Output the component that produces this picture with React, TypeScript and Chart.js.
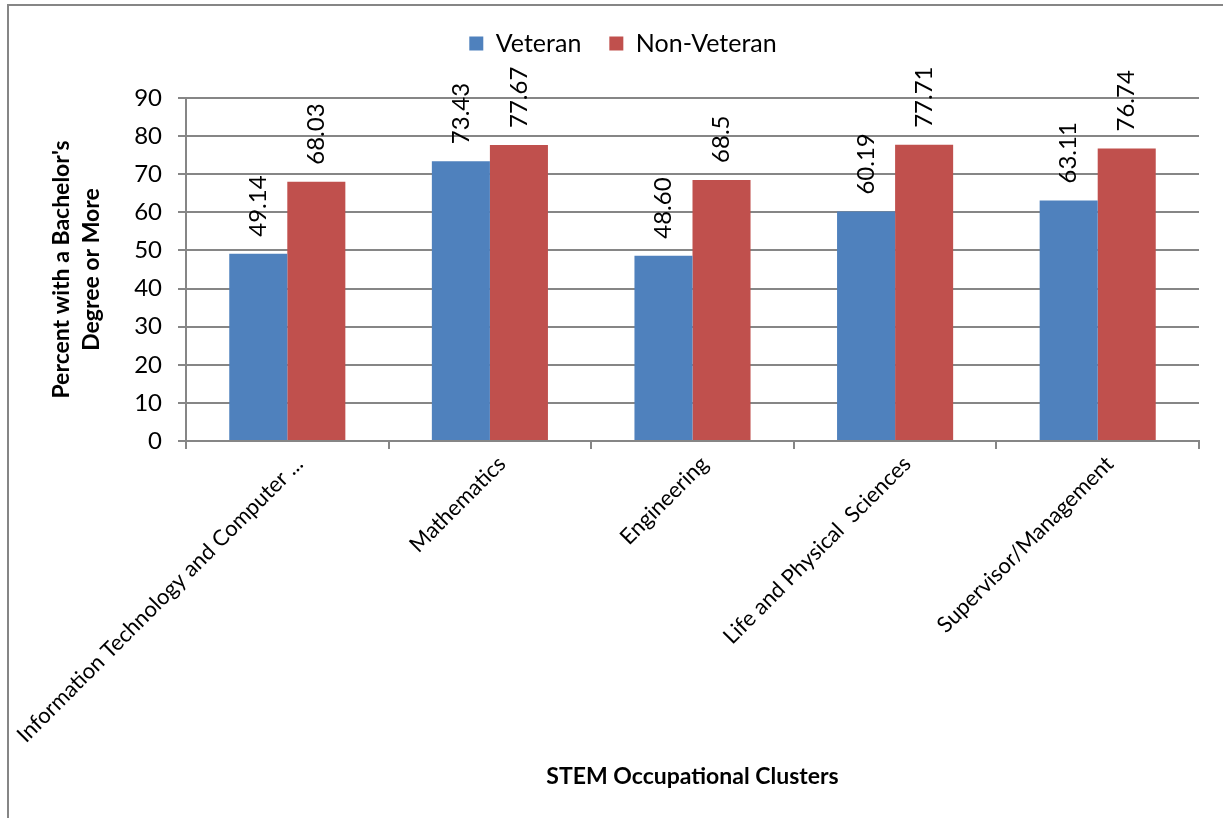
import React, { useEffect, useRef } from "react";
import { Chart, registerables } from "chart.js";

Chart.register(...registerables);

const categories = [
  "Information Technology and Computer ...",
  "Mathematics",
  "Engineering",
  "Life and Physical  Sciences",
  "Supervisor/Management",
];
const veteranValues = [49.14, 73.43, 48.6, 60.19, 63.11];
const veteranLabels = ["49.14", "73.43", "48.60", "60.19", "63.11"];
const nonVeteranValues = [68.03, 77.67, 68.5, 77.71, 76.74];
const nonVeteranLabels = ["68.03", "77.67", "68.5", "77.71", "76.74"];
const yTicks = [0, 10, 20, 30, 40, 50, 60, 70, 80, 90];

const FONT = "Lato, 'Open Sans', sans-serif";

export default function App() {
  const ref = useRef<HTMLCanvasElement | null>(null);

  useEffect(() => {
    if (!ref.current) return;
    document.body.style.margin = "0";

    const framePlugin = {
      id: "frame",
      beforeDraw(chart: any) {
        const ctx = chart.ctx;
        ctx.save();
        ctx.fillStyle = "#ffffff";
        ctx.fillRect(0, 0, chart.width, chart.height);
        ctx.strokeStyle = "#868686";
        ctx.lineWidth = 2;
        ctx.beginPath();
        ctx.moveTo(8, chart.height + 5);
        ctx.lineTo(8, 5);
        ctx.lineTo(chart.width + 5, 5);
        ctx.stroke();
        ctx.restore();
      },
    };

    const legendFit = {
      id: "legendFit",
      beforeInit(chart: any) {
        const legend = chart.legend;
        if (!legend) return;
        const orig = legend.fit;
        legend.fit = function () {
          orig.call(this);
          this.height = 95;
        };
      },
    };

    const labelPlugin = {
      id: "barLabels",
      afterDatasetsDraw(chart: any) {
        const ctx = chart.ctx;
        const labelSets = [veteranLabels, nonVeteranLabels];
        ctx.save();
        ctx.font = `24px ${FONT}`;
        ctx.fillStyle = "#000000";
        ctx.textAlign = "left";
        ctx.textBaseline = "middle";
        chart.data.datasets.forEach((ds: any, di: number) => {
          const meta = chart.getDatasetMeta(di);
          meta.data.forEach((bar: any, i: number) => {
            ctx.save();
            ctx.translate(bar.x, bar.y - 17);
            ctx.rotate(-Math.PI / 2);
            ctx.fillText(labelSets[di][i], 0, 0);
            ctx.restore();
          });
        });
        ctx.restore();
      },
    };

    const chart = new Chart(ref.current, {
      type: "bar",
      data: {
        labels: categories,
        datasets: [
          {
            label: "Veteran",
            data: veteranValues,
            backgroundColor: "#4f81bd",
            borderWidth: 0,
            categoryPercentage: 0.573,
            barPercentage: 1,
          },
          {
            label: "Non-Veteran",
            data: nonVeteranValues,
            backgroundColor: "#c0504d",
            borderWidth: 0,
            categoryPercentage: 0.573,
            barPercentage: 1,
          },
        ],
      },
      options: {
        responsive: false,
        animation: false,
        layout: { padding: { left: 47, right: 24, top: 3, bottom: 28 } },
        plugins: {
          legend: {
            position: "top",
            align: "center",
            labels: {
              font: { family: FONT, size: 25 },
              color: "#000000",
              boxWidth: 14,
              boxHeight: 14,
              padding: 28,
            },
          },
          tooltip: { enabled: false },
        },
        scales: {
          x: {
            grid: {
              offset: true,
              drawOnChartArea: false,
              drawTicks: true,
              tickLength: 8,
              color: "#868686",
              lineWidth: 2,
            },
            border: { color: "#868686", width: 2 },
            ticks: {
              font: { family: FONT, size: 22 },
              color: "#000000",
              maxRotation: 45,
              minRotation: 45,
              autoSkip: false,
              labelOffset: 12,
              padding: 2,
            },
            title: {
              display: true,
              text: "STEM Occupational Clusters",
              font: { family: FONT, size: 23, weight: "bold" },
              color: "#000000",
              padding: { top: 0, bottom: 0 },
            },
            afterFit(scale: any) {
              scale.height = 818 - 28 - 441;
              scale.paddingLeft = 0;
              scale.paddingRight = 0;
            },
          },
          y: {
            min: 0,
            max: 90,
            afterBuildTicks(scale: any) {
              scale.ticks = yTicks.map((v) => ({ value: v }));
            },
            grid: {
              color: "#868686",
              lineWidth: 2,
              drawTicks: true,
              tickLength: 8,
            },
            border: { color: "#868686", width: 2 },
            ticks: {
              font: { family: FONT, size: 24 },
              color: "#000000",
              padding: 16,
            },
            title: {
              display: true,
              text: ["Percent with a Bachelor's", "Degree or More"],
              font: { family: FONT, size: 23, weight: "bold", lineHeight: 1.3 },
              color: "#000000",
              padding: { top: 0, bottom: 0 },
            },
            afterFit(scale: any) {
              scale.width = 186 - 47;
            },
          },
        },
      },
      plugins: [framePlugin, legendFit, labelPlugin],
    } as any);

    return () => chart.destroy();
  }, []);

  return (
    <div style={{ position: "absolute", left: 0, top: 0, width: 1223, height: 818 }}>
      <canvas ref={ref} width={1223} height={818} style={{ display: "block" }} />
    </div>
  );
}
